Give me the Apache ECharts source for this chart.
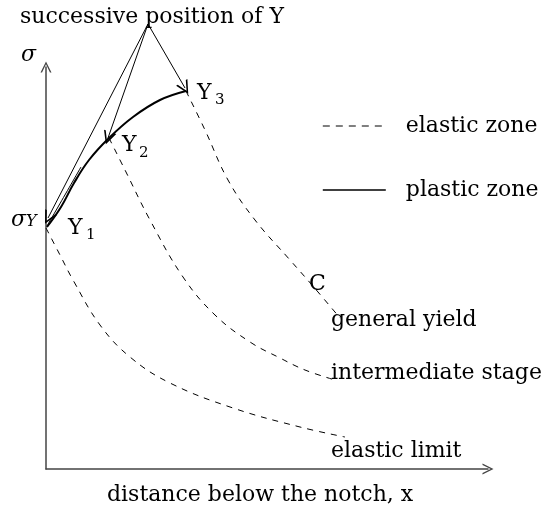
<!DOCTYPE html>
<html>
<head>
<meta charset="utf-8">
<script src="https://cdn.jsdelivr.net/npm/echarts@6/dist/echarts.min.js"></script>
<style>
html,body{margin:0;padding:0;background:#fff;}
#chart{width:545px;height:510px;}
</style>
</head>
<body>
<div id="chart"></div>
<script>
// Data (x = distance below notch, y = stress), arbitrary units
var plasticZone = [[1,242],[15,262],[28,286],[43,309],[63,331],[87,352],[114,369],[140,378]];
var plasticInner = [[1,243],[12,262],[35,302]];
var elasticLimit = [[0,241],[14,214],[27,189],[54,144],[84,112],[124,86],[187,61],[254,42],[299,32]];
var intermediateStage = [[63,331],[79,299],[104,249],[137,192],[169,154],[204,127],[234,111],[259,99],[289,89]];
var generalYield = [[140,378],[159,339],[182,289],[209,249],[244,209],[266,184],[294,151]];
var arrowSource = [102,445];
var arrowTargets = [[2,251],[62,331],[139,381]];
var legendNames = ['elastic zone','plastic zone'];

var FONT = '"DejaVu Serif", serif';
var chevron = 'path://M5,0 L10,10 L8.6,10 L5,2.6 L1.4,10 L0,10 Z';

var chart = echarts.init(document.getElementById('chart'), null, {renderer:'canvas'});

function txt(x, y, text, size, italic) {
  return {
    type: 'text', x: x, y: y, silent: true,
    style: {
      text: text, fill: '#000',
      font: (italic ? 'italic ' : '') + size + 'px ' + FONT,
      align: 'left', verticalAlign: 'middle',
      textAlign: 'left', textVerticalAlign: 'middle'
    }
  };
}

var option = {
  animation: false,
  backgroundColor: '#fff',
  color: ['#000'],
  grid: {left: 46, right: 57, top: 67, bottom: 41},
  xAxis: {
    type: 'value', min: 0, max: 442,
    axisLine: {show: true, lineStyle: {color: '#444', width: 1.5},
      symbol: ['none', chevron], symbolSize: [11, 15]},
    axisTick: {show: false}, axisLabel: {show: false}, splitLine: {show: false}
  },
  yAxis: {
    type: 'value', min: 0, max: 402,
    axisLine: {show: true, lineStyle: {color: '#444', width: 1.5},
      symbol: ['none', chevron], symbolSize: [11, 15]},
    axisTick: {show: false}, axisLabel: {show: false}, splitLine: {show: false}
  },
  legend: {
    data: [
      {name: legendNames[0], lineStyle: {type: [7, 6], width: 1}},
      {name: legendNames[1], lineStyle: {width: 1.6}}
    ],
    orient: 'vertical', left: 322, top: 114, padding: 0,
    itemWidth: 63, itemHeight: 14, itemGap: 40,
    itemStyle: {opacity: 0},
    textStyle: {fontFamily: FONT, fontSize: 22, color: '#000', lineHeight: 24, padding: [0,0,0,15]}
  },
  series: [
    {name: 'elastic zone', type: 'line', data: elasticLimit, smooth: 0.4, showSymbol: false, symbol: 'none', clip: false,
      itemStyle: {color: '#000'}, lineStyle: {color: '#000', width: 1, type: [6,6]}},
    {name: 'elastic zone', type: 'line', data: intermediateStage, smooth: 0.4, showSymbol: false, symbol: 'none', clip: false,
      itemStyle: {color: '#000'}, lineStyle: {color: '#000', width: 1, type: [6,6]}},
    {name: 'elastic zone', type: 'line', data: generalYield, smooth: 0.4, showSymbol: false, symbol: 'none', clip: false,
      itemStyle: {color: '#000'}, lineStyle: {color: '#000', width: 1, type: [6,6]}},
    {name: 'plastic zone', type: 'line', data: plasticZone, smooth: 0.4, showSymbol: false, symbol: 'none', clip: false,
      itemStyle: {color: '#000'}, lineStyle: {color: '#000', width: 2}},
    {name: 'plastic inner', type: 'line', data: plasticInner, smooth: 0.4, showSymbol: false, symbol: 'none', clip: false,
      itemStyle: {color: '#000'}, lineStyle: {color: '#000', width: 1}},
    {name: 'positions', type: 'lines', coordinateSystem: 'cartesian2d', clip: false,
      symbol: ['none', chevron], symbolSize: [9, 13],
      itemStyle: {color: '#000'},
      lineStyle: {color: '#000', width: 1, opacity: 1},
      data: arrowTargets.map(function (t) { return {coords: [arrowSource, t]}; })}
  ],
  graphic: [
    txt(20, 17, 'successive position of Y', 22),
    txt(21, 55, 'σ', 22, true),
    txt(11, 220, 'σ', 22, true),
    txt(26, 222, 'Y', 16, true),
    txt(68, 228, 'Y', 22),
    txt(86, 235, '1', 15),
    txt(122, 145, 'Y', 22),
    txt(139, 153, '2', 15),
    txt(197, 93, 'Y', 22),
    txt(215, 100, '3', 15),
    txt(309, 284, 'C', 22),
    txt(331, 320, 'general yield', 22),
    txt(331, 373, 'intermediate stage', 22),
    txt(331, 451, 'elastic limit', 22),
    txt(107, 495, 'distance below the notch, x', 22)
  ]
};
chart.setOption(option);
</script>
</body>
</html>
